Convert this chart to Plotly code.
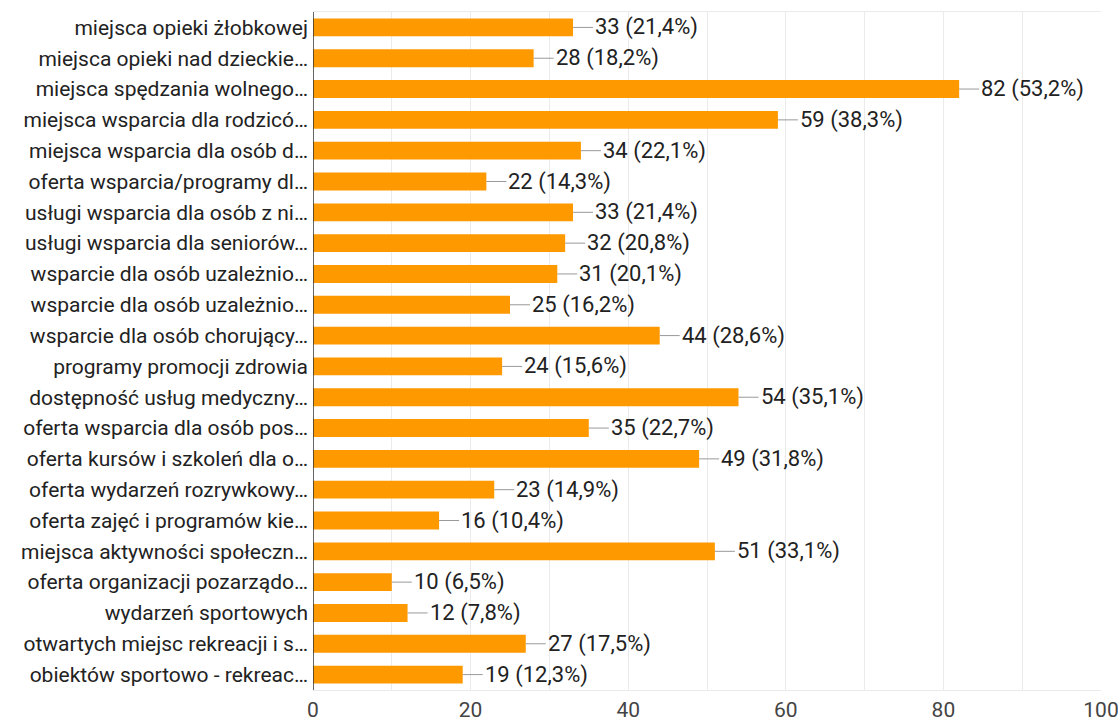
import plotly.graph_objects as go

labels = [
    "miejsca opieki żłobkowej",
    "miejsca opieki nad dzieckie…",
    "miejsca spędzania wolnego…",
    "miejsca wsparcia dla rodzicó…",
    "miejsca wsparcia dla osób d…",
    "oferta wsparcia/programy dl…",
    "usługi wsparcia dla osób z ni…",
    "usługi wsparcia dla seniorów…",
    "wsparcie dla osób uzależnio…",
    "wsparcie dla osób uzależnio…",
    "wsparcie dla osób chorujący…",
    "programy promocji zdrowia",
    "dostępność usług medyczny…",
    "oferta wsparcia dla osób pos…",
    "oferta kursów i szkoleń dla o…",
    "oferta wydarzeń rozrywkowy…",
    "oferta zajęć i programów kie…",
    "miejsca aktywności społeczn…",
    "oferta organizacji pozarządo…",
    "wydarzeń sportowych",
    "otwartych miejsc rekreacji i s…",
    "obiektów sportowo - rekreac…",
]
counts = [33, 28, 82, 59, 34, 22, 33, 32, 31, 25, 44, 24, 54, 35, 49, 23, 16, 51, 10, 12, 27, 19]
percents = ["21,4", "18,2", "53,2", "38,3", "22,1", "14,3", "21,4", "20,8", "20,1", "16,2",
            "28,6", "15,6", "35,1", "22,7", "31,8", "14,9", "10,4", "33,1", "6,5", "7,8",
            "17,5", "12,3"]
x_ticks = [0, 20, 40, 60, 80, 100]

positions = list(range(len(labels)))

fig = go.Figure()
fig.add_trace(go.Bar(
    x=counts, y=positions, orientation="h",
    marker=dict(color="#FF9900", line=dict(width=0)),
    hoverinfo="skip",
))

for pos, c, p in zip(positions, counts, percents):
    fig.add_annotation(
        x=c, y=pos, xref="x", yref="y",
        text=f"{c} ({p}%)",
        showarrow=True, arrowhead=0, arrowwidth=1, arrowcolor="#999999",
        ax=20, ay=0, xanchor="left", yanchor="middle",
        standoff=0, startstandoff=0,
        font=dict(family="Roboto, Arial, sans-serif", size=22, color="#222222"),
    )

fig.update_layout(
    width=1118, height=724,
    margin=dict(l=313, r=17, t=12, b=34, autoexpand=False),
    plot_bgcolor="white", paper_bgcolor="white",
    bargap=0.42, showlegend=False,
    font=dict(family="Roboto, Arial, sans-serif", color="#222222"),
)
fig.update_xaxes(
    range=[0, 100], tickvals=x_ticks, ticktext=[str(v) for v in x_ticks],
    showgrid=True, gridcolor="#EBEBEB", gridwidth=1,
    minor=dict(dtick=10, showgrid=True, gridcolor="#EBEBEB", gridwidth=1),
    zeroline=False, showline=True, linecolor="#EBEBEB", linewidth=1, mirror=True,
    ticks="", ticklabelstandoff=1, ticklabeloverflow="allow",
    tickfont=dict(family="Roboto, Arial, sans-serif", size=21, color="#444444"),
    fixedrange=True,
)
fig.update_yaxes(
    range=[len(labels) - 0.5, -0.5], tickvals=positions, ticktext=labels,
    showgrid=False, zeroline=False, showline=False, ticks="",
    ticklabelstandoff=4,
    tickfont=dict(family="Roboto, Arial, sans-serif", size=21, color="#222222"),
    fixedrange=True,
)
fig.add_shape(type="line", xref="x", yref="paper", x0=0, x1=0, y0=0, y1=1,
              line=dict(color="#333333", width=1.5))

fig.write_html(
    "out.html",
    config={"displayModeBar": False},
    post_script="document.body.style.margin='0';document.body.style.overflow='hidden';",
)
